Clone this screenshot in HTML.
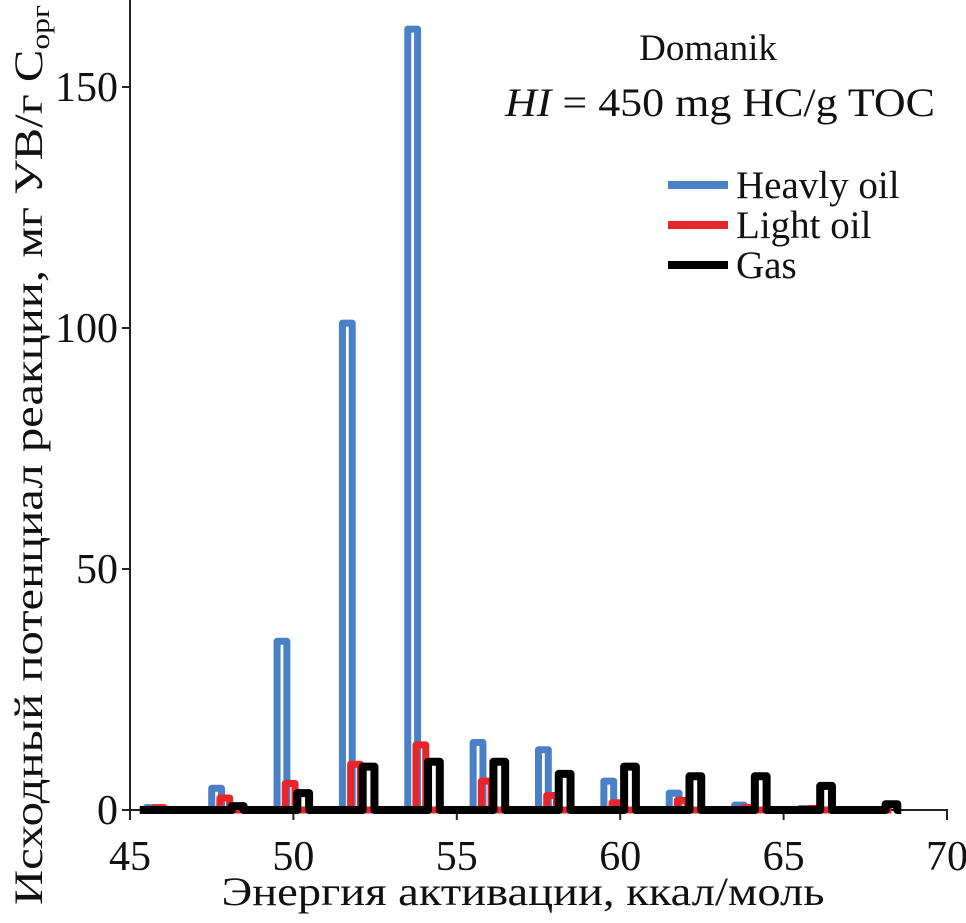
<!DOCTYPE html>
<html><head><meta charset="utf-8"><style>
body{margin:0;background:#fff}
svg text{font-family:"Liberation Serif",serif;fill:#111}
</style></head><body>
<svg id="c" width="966" height="918">
<g id="axes"></g>
<g id="plot"></g>
<text x="708" y="60" font-size="37" text-anchor="middle">Domanik</text>
<text x="720" y="116" font-size="40" text-anchor="middle" textLength="430" lengthAdjust="spacingAndGlyphs"><tspan font-style="italic">HI</tspan> = 450 mg HC/g TOC</text>
<g>
<line x1="668" y1="185" x2="728" y2="185" stroke="#4a80c6" stroke-width="8"/>
<text x="736" y="198" font-size="39">Heavly oil</text>
<line x1="668" y1="225" x2="728" y2="225" stroke="#e8262a" stroke-width="8"/>
<text x="736" y="238" font-size="39">Light oil</text>
<line x1="668" y1="265" x2="728" y2="265" stroke="#000" stroke-width="8"/>
<text x="736" y="278" font-size="39">Gas</text>
</g>
<text x="523" y="905" font-size="40" text-anchor="middle" textLength="603" lengthAdjust="spacingAndGlyphs">Энергия активации, ккал/моль</text>
<text transform="translate(42,455) rotate(-90)" font-size="40" text-anchor="middle" textLength="900" lengthAdjust="spacingAndGlyphs">Исходный потенциал реакции, мг УВ/г С<tspan font-size="26" dy="7">орг</tspan></text>
</svg>
<script>
const energies=[46,48,50,52,54,56,58,60,62,64,66,68];
const heavyOil=[0.5,4.5,35,101,162,14,12.5,6,3.5,1,0.3,0];
const lightOil=[0.5,2.5,5.5,9.5,13.5,6,3,1.5,2,0.5,0.3,0];
const gas=[0,0.8,3.5,9,10,10,7.5,9,7,7,5,1.2];
const xTicks=[45,50,55,60,65,70];
const yTicks=[0,50,100,150];
const X=v=>130+(v-45)*32.68, Y=v=>810-v*4.82;
const ns="http://www.w3.org/2000/svg";
const axes=document.getElementById('axes'),plot=document.getElementById('plot');
function mk(t,a,p){const e=document.createElementNS(ns,t);for(const k in a)e.setAttribute(k,a[k]);p.appendChild(e);return e;}
let l=mk('path',{d:`M130,0V810H947V820`,fill:'none',stroke:'#222','stroke-width':2},axes);


xTicks.forEach(t=>{
 const k=mk('line',{x1:X(t),x2:X(t),y1:810,y2:820,stroke:'#222','stroke-width':2},axes);
 
 
 const tx=mk('text',{x:X(t),y:870,'font-size':42,'text-anchor':'middle'},axes);tx.textContent=t;
 
 
});
yTicks.forEach(t=>{
 const k=mk('line',{x1:122,x2:130,y1:Y(t),y2:Y(t),stroke:'#222','stroke-width':2},axes);
 
 
 const tx=mk('text',{x:118,y:Y(t)+14,'font-size':42,'text-anchor':'end'},axes);tx.textContent=t;
 
 
});
function series(vals,off,w,color,sw,name,end){
 let d=`M${X(45.3)},${Y(0)}`;
 energies.forEach((e,i)=>{const c=e+off;d+=`H${X(c-w/2)}V${Y(vals[i])}H${X(c+w/2)}V${Y(0)}`;});
 d+=`H${X(end)}`;
 const p=mk('path',{d:d,fill:'none',stroke:color,'stroke-width':sw,'stroke-linejoin':'round'},plot);
 
 
}
series(heavyOil,-0.35,0.3,'#4a80c6',7,'heavy-oil-series',68.3);
series(lightOil,-0.1,0.3,'#e8262a',7,'light-oil-series',68.3);
series(gas,0.3,0.36,'#000',8,'gas-series',68.6);
</script>
</body></html>
